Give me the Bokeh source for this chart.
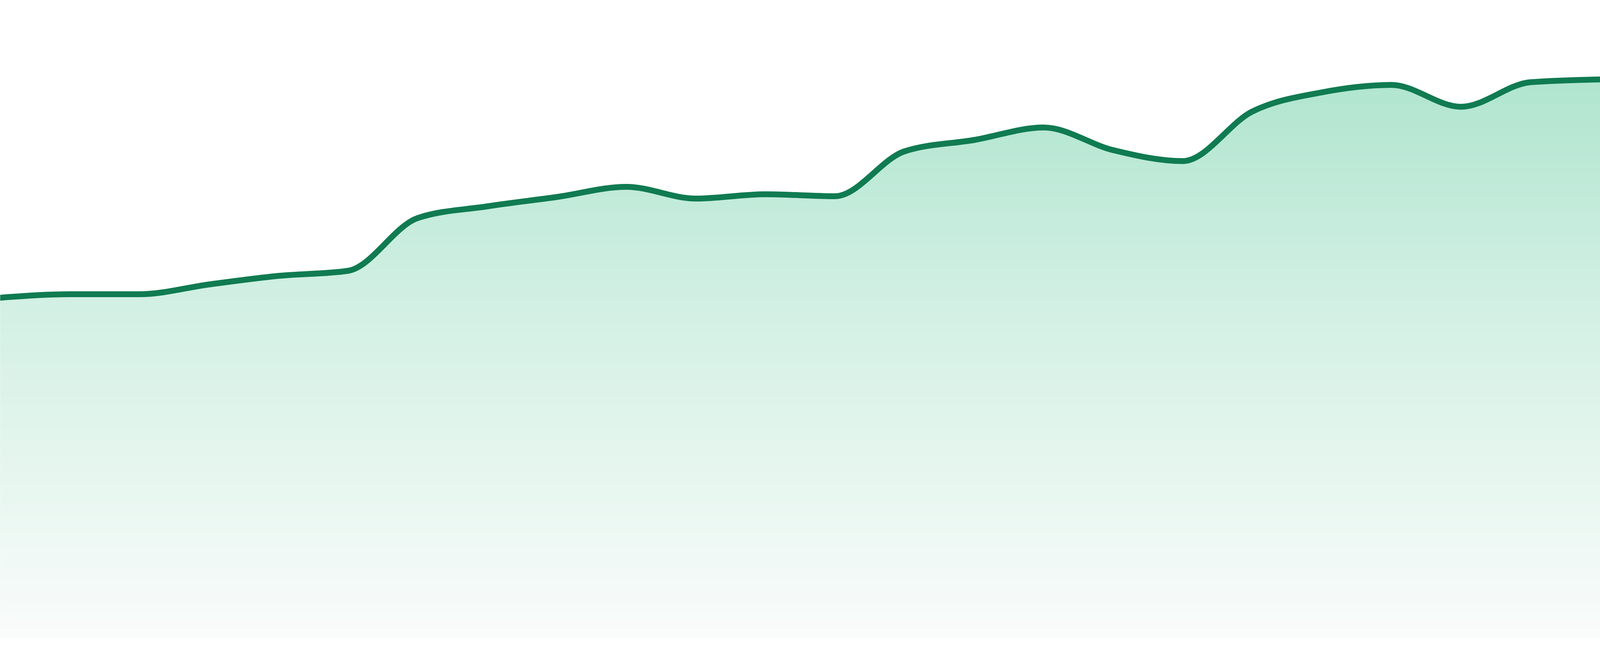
import numpy as np
from bokeh.plotting import figure
from bokeh.models import Range1d, ColumnDataSource
from bokeh.embed import file_html
from bokeh.resources import INLINE

# ---- data ----
periods = list(range(24))
values = [87.1, 88.0, 88.0, 90.5, 92.7, 94.0, 107.5, 110.5, 112.9, 115.5, 112.5, 113.6,
          113.1, 124.6, 127.5, 130.7, 124.9, 122.1, 134.8, 139.7, 141.6, 136.0, 142.3, 143.0]

LINE_COLOR = "#107b51"
grad_levels = [0.0, 3.3, 43.3, 83.3, 143.0]
grad_colors = [(249, 252, 251), (248, 251, 250), (230, 246, 239), (211, 240, 228), (176, 229, 207)]

x = np.array(periods, dtype=float)
y = np.array(values, dtype=float)
n = len(x)

# monotone-x cubic tangents for a smooth curve through the data points
t = np.zeros(n)
for i in range(1, n - 1):
    h0 = x[i] - x[i - 1]
    h1 = x[i + 1] - x[i]
    s0 = (y[i] - y[i - 1]) / h0
    s1 = (y[i + 1] - y[i]) / h1
    p = (s0 * h1 + s1 * h0) / (h0 + h1)
    t[i] = (np.sign(s0) + np.sign(s1)) * min(abs(s0), abs(s1), 0.5 * abs(p))
t[0] = (3 * (y[1] - y[0]) / (x[1] - x[0]) - t[1]) / 2
t[-1] = (3 * (y[-1] - y[-2]) / (x[-1] - x[-2]) - t[-2]) / 2

dx = (x[1:] - x[:-1]) / 3.0
bez = dict(
    x0=x[:-1], y0=y[:-1], x1=x[1:], y1=y[1:],
    cx0=x[:-1] + dx, cy0=y[:-1] + dx * t[:-1],
    cx1=x[1:] - dx, cy1=y[1:] - dx * t[1:],
)

# outline of the same Bezier segments, used to bound the filled area
ss = np.linspace(0, 1, 28)
cx, cy = [], []
for k in range(n - 1):
    P = [(bez["x0"][k], bez["y0"][k]), (bez["cx0"][k], bez["cy0"][k]),
         (bez["cx1"][k], bez["cy1"][k]), (bez["x1"][k], bez["y1"][k])]
    for s in (ss if k == 0 else ss[1:]):
        a, b, c, d = (1 - s) ** 3, 3 * (1 - s) ** 2 * s, 3 * (1 - s) * s ** 2, s ** 3
        cx.append(a * P[0][0] + b * P[1][0] + c * P[2][0] + d * P[3][0])
        cy.append(a * P[0][1] + b * P[1][1] + c * P[2][1] + d * P[3][1])
cx = np.array(cx)
cy = np.array(cy)

X0, X1 = 0.0, 23.0
Y0, Y1 = -4.7, 163.3

p = figure(width=4784, height=1664, x_range=Range1d(X0, X1), y_range=Range1d(Y0, Y1),
           output_backend="svg", toolbar_location=None, min_border=0,
           x_axis_location=None, y_axis_location=None, sizing_mode="stretch_both")
p.grid.visible = False
p.outline_line_color = None
p.background_fill_color = "white"
p.border_fill_color = "white"


def band_color(m):
    r = np.interp(m, grad_levels, [c[0] for c in grad_colors])
    g = np.interp(m, grad_levels, [c[1] for c in grad_colors])
    b = np.interp(m, grad_levels, [c[2] for c in grad_colors])
    return "#%02x%02x%02x" % (int(round(r)), int(round(g)), int(round(b)))


# vertical gradient under the curve, built from thin horizontal bands
nb = 220
top = max(values) + 0.5
edges = np.linspace(0, top, nb + 1)
step = edges[1] - edges[0]
floor_v = cy.min()
q_left, q_right, q_bot, q_top, q_col = [], [], [], [], []
for k in range(nb):
    b0, b1 = edges[k], edges[k + 1]
    col = band_color((b0 + b1) / 2)
    b1x = b1 + step * 0.6
    if b1x <= floor_v:
        q_left.append(cx[0] - 1); q_right.append(cx[-1] + 1)
        q_bot.append(b0); q_top.append(b1x); q_col.append(col)
    else:
        y2 = np.clip(cy, b0, b1x)
        p.varea(x=cx, y1=np.full_like(cy, b0), y2=y2, fill_color=col, fill_alpha=1.0)
p.quad(left=q_left, right=q_right, bottom=q_bot, top=q_top, fill_color=q_col, line_color=None)

# the line itself
p.bezier(source=ColumnDataSource(bez), x0="x0", y0="y0", x1="x1", y1="y1",
         cx0="cx0", cy0="cy0", cx1="cx1", cy1="cy1",
         line_color=LINE_COLOR, line_width=15, line_cap="round")

open("out.html", "w").write(file_html(p, INLINE))
